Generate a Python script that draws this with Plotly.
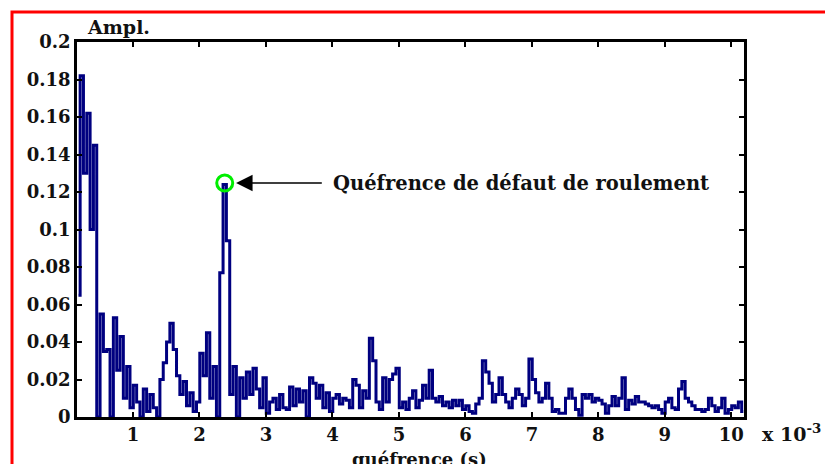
import numpy as np
import plotly.graph_objects as go

# quefrency axis (ms, i.e. x 1e-3 s): uniform sampling
t_start = 0.18
t_step = 0.05

amplitude = [
    # 0.18 - 1.13
    0.065, 0.182, 0.130, 0.162, 0.100, 0.145, 0.000, 0.055, 0.035, 0.036,
    0.000, 0.053, 0.025, 0.043, 0.010, 0.027, 0.005, 0.017, 0.008, 0.000,
    # 1.18 - 2.13
    0.015, 0.003, 0.012, 0.005, 0.000, 0.020, 0.029, 0.040, 0.050, 0.036,
    0.022, 0.012, 0.019, 0.006, 0.013, 0.003, 0.008, 0.034, 0.022, 0.045,
    # 2.18 - 3.13
    0.010, 0.027, 0.000, 0.077, 0.124, 0.094, 0.012, 0.027, 0.000, 0.021,
    0.010, 0.024, 0.012, 0.026, 0.015, 0.005, 0.021, 0.002, 0.008, 0.010,
    # 3.18 - 4.13
    0.004, 0.012, 0.005, 0.004, 0.016, 0.006, 0.015, 0.008, 0.014, 0.000,
    0.021, 0.018, 0.010, 0.017, 0.005, 0.013, 0.003, 0.010, 0.012, 0.007,
    # 4.18 - 5.13
    0.010, 0.009, 0.005, 0.020, 0.017, 0.005, 0.014, 0.010, 0.042, 0.030,
    0.008, 0.004, 0.021, 0.008, 0.020, 0.023, 0.026, 0.005, 0.008, 0.004,
    # 5.18 - 6.13
    0.010, 0.014, 0.005, 0.009, 0.017, 0.010, 0.025, 0.010, 0.008, 0.011,
    0.006, 0.008, 0.005, 0.009, 0.006, 0.009, 0.004, 0.006, 0.003, 0.002,
    # 6.18 - 7.13
    0.007, 0.010, 0.030, 0.024, 0.018, 0.008, 0.012, 0.021, 0.012, 0.008,
    0.005, 0.010, 0.015, 0.012, 0.006, 0.010, 0.031, 0.020, 0.013, 0.008,
    # 7.18 - 8.13
    0.010, 0.018, 0.010, 0.003, 0.004, 0.002, 0.002, 0.010, 0.015, 0.010,
    0.004, 0.001, 0.012, 0.010, 0.012, 0.008, 0.010, 0.009, 0.007, 0.002,
    # 8.18 - 9.13
    0.006, 0.011, 0.006, 0.010, 0.021, 0.004, 0.009, 0.007, 0.011, 0.008,
    0.008, 0.007, 0.006, 0.005, 0.006, 0.004, 0.002, 0.008, 0.010, 0.005,
    # 9.18 - 10.18
    0.004, 0.015, 0.019, 0.010, 0.008, 0.006, 0.004, 0.004, 0.003, 0.004,
    0.010, 0.006, 0.003, 0.005, 0.010, 0.002, 0.004, 0.006, 0.005, 0.008,
    0.003,
]

x_ticks = [1, 2, 3, 4, 5, 6, 7, 8, 9, 10]
x_tick_labels = ["1", "2", "3", "4", "5", "6", "7", "8", "9", "10"]
y_ticks = [0, 0.02, 0.04, 0.06, 0.08, 0.1, 0.12, 0.14, 0.16, 0.18, 0.2]
y_tick_labels = ["0", "0.02", "0.04", "0.06", "0.08", "0.1", "0.12", "0.14", "0.16", "0.18", "0.2"]

defect_t = 2.38
defect_amp = 0.1248
annotation_text = "Quéfrence de défaut de roulement"

t = t_start + t_step * np.arange(len(amplitude))

FONT = "DejaVu Serif"
fig = go.Figure()
fig.add_trace(go.Scatter(
    x=t, y=amplitude, mode="lines",
    line=dict(color="#000080", width=3, shape="hvh"),
    showlegend=False, hoverinfo="skip",
))
fig.add_trace(go.Scatter(
    x=[defect_t], y=[defect_amp], mode="markers",
    marker=dict(symbol="circle-open", size=16, color="#00ee00", line=dict(width=3, color="#00ee00")),
    showlegend=False, hoverinfo="skip",
))

axis_common = dict(
    showline=True, linecolor="black", linewidth=2.5, mirror="ticks",
    ticks="inside", ticklen=5, tickwidth=2, tickcolor="black",
    showgrid=False, zeroline=False,
    tickfont=dict(family=FONT, size=18, color="#111", weight="bold"),
)

fig.update_layout(
    width=825, height=456,
    margin=dict(l=69, r=89, t=34, b=47),
    paper_bgcolor="white", plot_bgcolor="white",
    xaxis=dict(range=[0.158, 10.19], tickvals=x_ticks, ticktext=x_tick_labels, **axis_common),
    yaxis=dict(range=[0, 0.2], tickvals=y_ticks, ticktext=y_tick_labels, **axis_common),
    shapes=[dict(type="rect", xref="paper", yref="paper",
                 x0=(12 - 77) / 667, x1=1.5, y0=-0.6, y1=(417 - 12) / 375,
                 line=dict(color="red", width=3))],
    annotations=[
        dict(x=2.55, y=defect_amp, ax=3.84, ay=defect_amp, axref="x", ayref="y",
             xref="x", yref="y", xanchor="left", yanchor="middle",
             text=annotation_text, showarrow=True, arrowhead=2, arrowsize=2.2,
             arrowwidth=1.5, arrowcolor="black", borderpad=10,
             font=dict(family=FONT, size=19.5, color="#111", weight="bold")),
        dict(x=(118 - 77) / 667, y=(417 - 27) / 375, xref="paper", yref="paper",
             text="Ampl.", showarrow=False, xanchor="center", yanchor="middle",
             font=dict(family=FONT, size=19, color="#111", weight="bold")),
        dict(x=(760 - 77) / 667, y=(417 - 433) / 375, xref="paper", yref="paper",
             text="x 10<sup>-3</sup>", showarrow=False, xanchor="left", yanchor="middle",
             font=dict(family=FONT, size=19, color="#111", weight="bold")),
        dict(x=(420 - 77) / 667, y=(417 - 459) / 375, xref="paper", yref="paper",
             text="quéfrence (s)", showarrow=False, xanchor="center", yanchor="middle",
             font=dict(family=FONT, size=18, color="#111", weight="bold")),
    ],
)

fig.write_html("out.html")
